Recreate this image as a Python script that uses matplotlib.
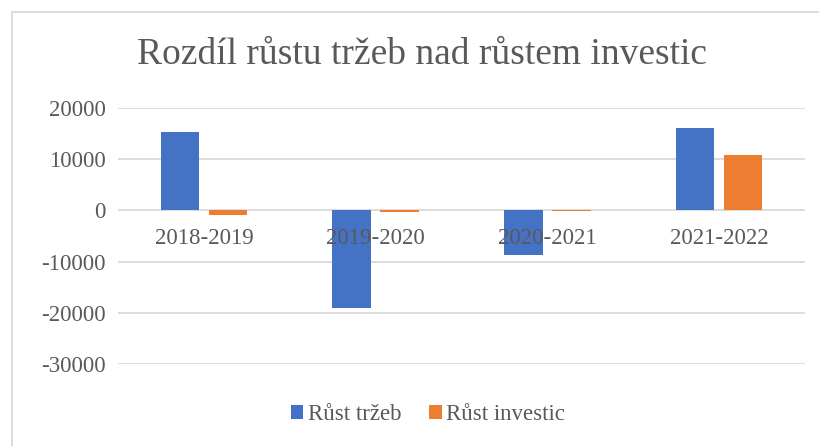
import numpy as np
from matplotlib import pyplot as plt
from matplotlib.patches import Rectangle

categories = ["2018-2019", "2019-2020", "2020-2021", "2021-2022"]
rust_trzeb = [15300, -19000, -8800, 16100]
rust_investic = [-900, -250, -200, 10800]
series_names = ["Růst tržeb", "Růst investic"]

blue = "#4472C4"
orange = "#ED7D31"
grey_text = "#595959"
grid_col = "#D9D9D9"

plt.rcParams['font.family'] = ['Liberation Serif', 'DejaVu Serif']

fig = plt.figure(figsize=(8.19, 4.46), dpi=100)
ax = fig.add_axes([118 / 819, 1 - 364 / 446, (805 - 118) / 819, (364 - 108) / 446])

# chart area border (cropped at right and bottom like the original)
fig.patches.append(Rectangle((12 / 819, -0.1), 1.2, 1 - 12 / 446 + 0.1,
                             transform=fig.transFigure, fill=False,
                             edgecolor=grid_col, linewidth=1.3))

x = np.arange(len(categories))
w = 0.225
ax.bar(x - 0.14, rust_trzeb, w, color=blue, label=series_names[0], zorder=3)
ax.bar(x + 0.14, rust_investic, w, color=orange, label=series_names[1], zorder=3)

ax.set_xlim(-0.5, len(categories) - 0.5)
ax.set_ylim(-30000, 20000)
ax.set_yticks(np.arange(-30000, 20001, 10000))
ax.set_yticklabels([str(v) for v in range(-30000, 20001, 10000)])
ax.tick_params(axis='y', length=0, pad=9, labelsize=16.5, labelcolor=grey_text)
ax.set_xticks([])
ax.yaxis.grid(True, color=grid_col, linewidth=1.3, zorder=0)
for s in ax.spines.values():
    s.set_visible(False)

# category labels sit on the zero line, drawn over the bars as in Excel
for i, c in enumerate(categories):
    ax.annotate(c, (i, 0), xytext=(0, -12.5), textcoords='offset points',
                ha='center', va='top', fontsize=16.5, color=grey_text, zorder=5)

fig.text(0.515, 1 - 55 / 446, "Rozdíl růstu tržeb nad růstem investic",
         ha='center', va='center', fontsize=27, color=grey_text)

leg = fig.legend(loc='center', bbox_to_anchor=(428 / 819, 1 - 415 / 446), ncol=2,
                 frameon=False, fontsize=16.5, handlelength=0.55, handleheight=0.55,
                 handletextpad=0.2, columnspacing=1.2, labelcolor=grey_text)

fig.savefig("out.png", dpi=100)
